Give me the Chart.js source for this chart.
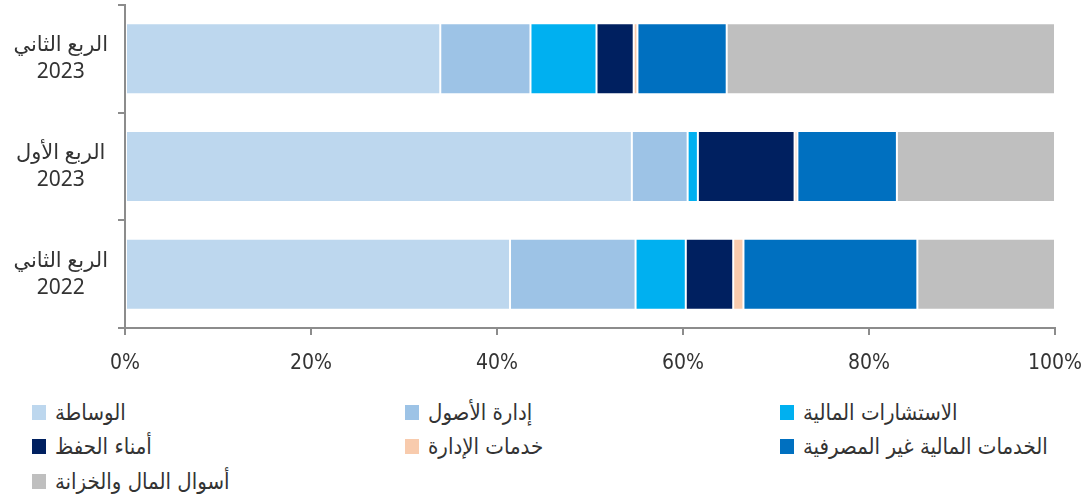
<!DOCTYPE html>
<html>
<head>
<meta charset="utf-8">
<script src="https://cdn.jsdelivr.net/npm/chart.js@4"></script>
<style>
  body { margin: 0; background: #fff; }
  #wrap { position: relative; width: 1086px; height: 495px; }
  #legend { position: absolute; left: 0; top: 397px; width: 1086px; }
</style>
</head>
<body>
<div id="wrap">
  <canvas id="chart" width="1086" height="380"></canvas>
  <div id="legend"></div>
</div>
<script>
  const categories = [['الربع الثاني', '2023'], ['الربع الأول', '2023'], ['الربع الثاني', '2022']];
  const seriesNames = ['الوساطة', 'إدارة الأصول', 'الاستشارات المالية', 'أمناء الحفظ', 'خدمات الإدارة', 'الخدمات المالية غير المصرفية', 'أسوال المال والخزانة'];
  const seriesColors = ['#BDD7EE', '#9DC3E6', '#00B0F0', '#002060', '#F8CBAD', '#0070C0', '#BFBFBF'];
  // shares in %, per category (top to bottom)
  const brokerage = [33.9, 54.5, 41.4];
  const assetMgmt = [9.7, 6.0, 13.5];
  const advisory = [7.1, 1.1, 5.4];
  const custody = [4.0, 10.4, 5.1];
  const adminServices = [0.4, 0.3, 1.1];
  const nonBank = [9.6, 10.7, 18.7];
  const moneyMarkets = [35.3, 17.0, 14.8];
  const xTicks = [0, 20, 40, 60, 80, 100];

  const seriesValues = [brokerage, assetMgmt, advisory, custody, adminServices, nonBank, moneyMarkets];
  const textFont = "'Liberation Sans Narrow', 'DejaVu Sans Condensed', sans-serif";

  // legend in 3 fixed columns, like the original
  const htmlLegendPlugin = {
    id: 'htmlLegend',
    afterUpdate(chart, args, options) {
      const box = document.getElementById(options.containerID);
      while (box.firstChild) {
        box.firstChild.remove();
      }
      const colLeft = [32, 405, 780];
      const rowTop = [0, 34, 69];
      chart.data.datasets.forEach((ds, i) => {
        const item = document.createElement('div');
        item.style.position = 'absolute';
        item.style.left = colLeft[i % 3] + 'px';
        item.style.top = rowTop[Math.floor(i / 3)] + 'px';
        item.style.whiteSpace = 'nowrap';
        item.style.height = '28px';
        item.style.lineHeight = '28px';
        const sw = document.createElement('span');
        sw.style.display = 'inline-block';
        sw.style.width = '14px';
        sw.style.height = '15px';
        sw.style.verticalAlign = 'middle';
        sw.style.background = ds.backgroundColor;
        const txt = document.createElement('span');
        txt.style.display = 'inline-block';
        txt.style.verticalAlign = 'middle';
        txt.style.marginLeft = '9px';
        txt.style.font = "22px " + textFont;
        txt.style.color = '#333';
        txt.textContent = ds.label;
        item.appendChild(sw);
        item.appendChild(txt);
        box.appendChild(item);
      });
    }
  };

  const ctx = document.getElementById('chart').getContext('2d');
  const myChart = new Chart(ctx, {
    type: 'bar',
    data: {
      labels: categories,
      datasets: seriesNames.map((name, i) => ({
        label: name,
        data: seriesValues[i],
        backgroundColor: seriesColors[i],
        borderColor: 'rgba(255,255,255,0.35)',
        borderWidth: 1,
        borderSkipped: false,
        barPercentage: 0.66,
        categoryPercentage: 1
      }))
    },
    options: {
      indexAxis: 'y',
      responsive: false,
      animation: false,
      layout: { padding: { top: 5, right: 31, left: 0, bottom: 0 } },
      plugins: {
        legend: { display: false },
        tooltip: { enabled: false },
        htmlLegend: { containerID: 'legend' }
      },
      scales: {
        x: {
          stacked: true,
          min: 0,
          max: 100,
          afterBuildTicks: (axis) => { axis.ticks = xTicks.map(v => ({ value: v })); },
          afterFit: (axis) => {
            axis.height = 52;
            axis.paddingLeft = 0;
            axis.paddingRight = 0;
          },
          border: { display: true, color: '#8c8c8c', width: 2 },
          grid: { drawOnChartArea: false, drawTicks: true, tickLength: 7, color: '#8c8c8c', lineWidth: 2 },
          ticks: {
            padding: 16,
            color: '#333',
            font: { family: textFont, size: 21 },
            maxRotation: 0,
            callback: (v) => v + '%'
          }
        },
        y: {
          stacked: true,
          afterFit: (axis) => {
            axis.width = 125;
            axis.paddingTop = 0;
            axis.paddingBottom = 0;
          },
          border: { display: true, color: '#8c8c8c', width: 2 },
          grid: { offset: true, drawOnChartArea: false, drawTicks: true, tickLength: 7, color: '#8c8c8c', lineWidth: 2 },
          ticks: {
            crossAlign: 'center',
            padding: 10,
            color: '#333',
            font: { family: "'Noto Sans', 'DejaVu Sans', sans-serif", size: 21, lineHeight: 1.3 }
          }
        }
      }
    },
    plugins: [htmlLegendPlugin]
  });
</script>
</body>
</html>
